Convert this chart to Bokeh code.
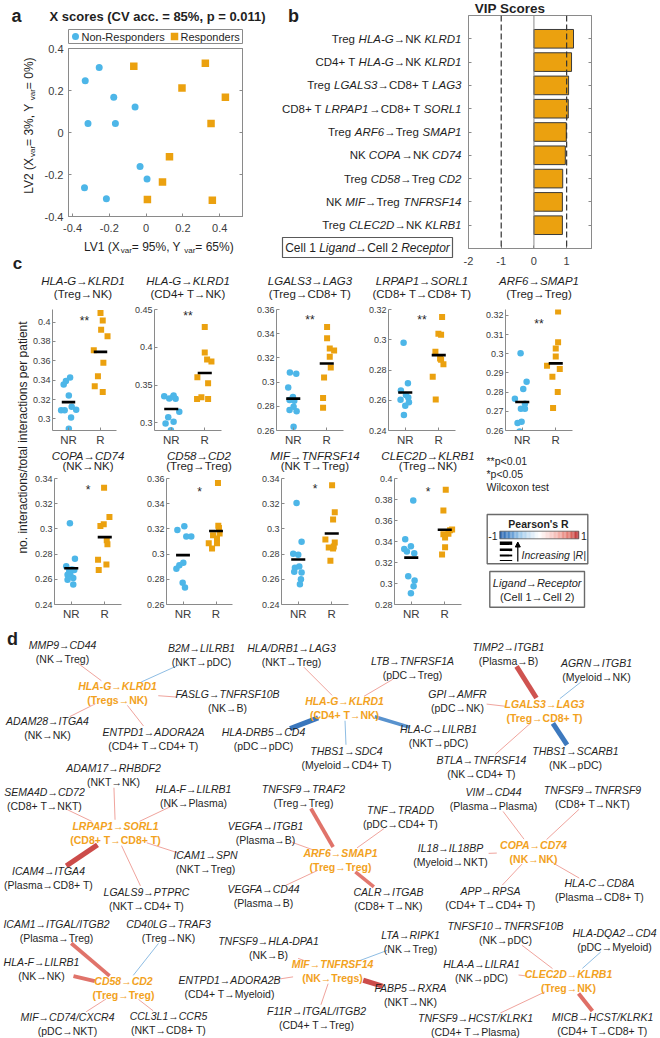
import math
import numpy as np
from bokeh.plotting import figure
from bokeh.layouts import row, column
from bokeh.models import (Range1d, FixedTicker, CustomJSTickFormatter, Label, Span, LinearAxis,
                          Arrow, NormalHead, ColumnDataSource)
from bokeh.core.properties import value
from bokeh.embed import file_html
from bokeh.resources import INLINE

FONT = "Liberation Sans"
INK = "#1f1f1f"
TICK_TXT = "#3c3c3c"
AXIS = "#8a8a8a"
NR_BLUE = "#4DB6E8"
R_ORANGE = "#EBA10F"
HUB_ORANGE = "#F2A21E"

# ---------------- a: latent-variable scores ----------------
a_cv_acc = 85
a_p = 0.011
a_lv1_var = (95, 65)
a_lv2_var = (3, 0)
a_nr_x = [-0.255, -0.331, -0.176, -0.060, -0.316, -0.167, -0.033, 0.005, -0.335, -0.216]
a_nr_y = [0.309, 0.246, 0.168, 0.122, 0.043, 0.043, -0.162, -0.222, -0.263, -0.315]
a_r_x = [-0.067, 0.322, 0.195, 0.431, 0.353, 0.127, 0.089, 0.007, 0.360]
a_r_y = [0.315, 0.330, 0.212, 0.168, 0.043, -0.116, -0.236, -0.319, -0.323]
a_ticks = [-0.4, -0.2, 0, 0.2, 0.4]

# ---------------- b: VIP scores ----------------
b_sender = ["Treg", "CD4+ T", "Treg", "CD8+ T", "Treg", "NK", "Treg", "NK", "Treg"]
b_ligand = ["HLA-G", "HLA-G", "LGALS3", "LRPAP1", "ARF6", "COPA", "CD58", "MIF", "CLEC2D"]
b_receiver = ["NK", "NK", "CD8+ T", "CD8+ T", "Treg", "NK", "Treg", "Treg", "NK"]
b_receptor = ["KLRD1", "KLRD1", "LAG3", "SORL1", "SMAP1", "CD74", "CD2", "TNFRSF14", "KLRB1"]
b_vip = [1.21, 1.15, 1.06, 1.05, 0.99, 0.96, 0.88, 0.87, 0.87]
b_ticks = [-2, -1, 0, 1]

# ---------------- c: per-patient interaction fractions ----------------
c_pairs = ["HLA-G→KLRD1", "HLA-G→KLRD1", "LGALS3→LAG3", "LRPAP1→SORL1", "ARF6→SMAP1",
           "COPA→CD74", "CD58→CD2", "MIF→TNFRSF14", "CLEC2D→KLRB1"]
c_cells = ["Treg→NK", "CD4+ T→NK", "Treg→CD8+ T", "CD8+ T→CD8+ T", "Treg→Treg",
           "NK→NK", "Treg→Treg", "NK T→Treg", "Treg→NK"]
c_sig = ["**", "**", "**", "**", "**", "*", "*", "*", "*"]
c_nr = [
    [0.3427, 0.3392, 0.3356, 0.3243, 0.3126, 0.3091, 0.3091, 0.3094, 0.3016, 0.2900],
    [0.3354, 0.3324, 0.3363, 0.3319, 0.3345, 0.3149, 0.3074, 0.3017, 0.2991, 0.2904],
    [0.3079, 0.3068, 0.2956, 0.2877, 0.2853, 0.2845, 0.2797, 0.2770, 0.2760, 0.2632],
    [0.2980, 0.2713, 0.2665, 0.2635, 0.2603, 0.2618, 0.2586, 0.2563, 0.2502],
    [0.3003, 0.2854, 0.2817, 0.2765, 0.2740, 0.2714, 0.2714, 0.2639, 0.2646, 0.2595],
    [0.3044, 0.2764, 0.2704, 0.2678, 0.2665, 0.2673, 0.2636, 0.2639, 0.2610, 0.2597, 0.2558],
    [0.3191, 0.3222, 0.3140, 0.3140, 0.2883, 0.2911, 0.2932, 0.2772, 0.2734],
    [0.3205, 0.2899, 0.2803, 0.2795, 0.2691, 0.2701, 0.2659, 0.2653, 0.2600, 0.2560],
    [0.3791, 0.3422, 0.3329, 0.3305, 0.3354, 0.3289, 0.3068, 0.3028, 0.2975, 0.2908],
]
c_nr_jitter = [
    [0.05, -0.08, -0.15, 0.01, 0.10, -0.23, -0.12, 0.24, 0.08, 0.01],
    [-0.21, -0.06, 0.07, 0.13, 0.06, 0.24, -0.09, 0.07, -0.17, -0.01],
    [-0.10, 0.09, -0.15, -0.01, -0.11, 0.03, 0.01, -0.11, 0.10, 0.01],
    [-0.05, 0.08, -0.13, 0.02, -0.14, 0.09, 0.11, 0.00, -0.04],
    [-0.05, 0.13, 0.03, -0.22, 0.08, -0.04, 0.08, -0.14, -0.02, -0.08],
    [-0.04, 0.11, -0.15, 0.02, -0.06, 0.09, -0.11, -0.03, 0.06, -0.11, 0.06],
    [-0.17, 0.04, 0.10, 0.25, -0.20, -0.11, 0.01, -0.01, 0.06],
    [-0.05, 0.10, -0.15, 0.00, -0.10, 0.03, -0.12, 0.10, 0.08, 0.05],
    [0.06, -0.18, -0.21, -0.13, -0.01, 0.09, -0.09, 0.10, 0.07, -0.01],
]
c_r = [
    [0.4094, 0.4016, 0.3919, 0.3854, 0.3709, 0.3579, 0.3440, 0.3337, 0.3278],
    [0.4268, 0.3931, 0.3840, 0.3813, 0.3603, 0.3525, 0.3341, 0.3315, 0.3315],
    [0.3456, 0.3363, 0.3278, 0.3262, 0.3209, 0.3121, 0.3039, 0.2869, 0.2789],
    [0.3151, 0.3039, 0.3033, 0.2921, 0.2868, 0.2838, 0.2756, 0.2605, 0.2876],
    [0.3220, 0.3060, 0.3027, 0.2986, 0.2938, 0.2880, 0.2921, 0.2801, 0.2717],
    [0.3327, 0.3094, 0.3036, 0.3023, 0.2909, 0.2878, 0.2756, 0.2717, 0.2673],
    [0.3564, 0.3225, 0.3207, 0.3150, 0.3163, 0.3124, 0.3086, 0.3086, 0.3045],
    [0.3347, 0.3133, 0.3075, 0.2915, 0.2893, 0.2853, 0.2845, 0.2747, 0.2861],
    [0.3892, 0.3695, 0.3468, 0.3508, 0.3514, 0.3474, 0.3437, 0.3345, 0.3277],
]
c_r_jitter = [
    [0.00, 0.07, 0.02, 0.22, -0.21, 0.09, -0.08, -0.18, 0.07],
    [0.00, 0.00, 0.07, 0.20, -0.22, 0.10, -0.10, -0.23, 0.10],
    [0.01, 0.01, 0.09, 0.22, 0.09, 0.12, -0.08, -0.11, -0.11],
    [0.10, -0.01, 0.07, -0.10, 0.07, 0.14, -0.18, -0.09, 0.04],
    [0.07, 0.07, 0.00, 0.00, -0.26, -0.10, 0.12, 0.06, -0.08],
    [-0.02, 0.14, -0.03, -0.13, 0.06, 0.08, -0.20, 0.05, -0.18],
    [0.06, 0.07, 0.09, -0.09, 0.11, 0.03, -0.22, 0.03, -0.12],
    [0.01, 0.09, 0.04, -0.19, 0.09, -0.09, 0.04, -0.04, 0.06],
    [0.03, -0.04, -0.04, 0.16, 0.22, 0.11, 0.01, 0.01, -0.08],
]
c_ylim = [(0.2881, 0.4129), (0.29, 0.45), (0.26, 0.36), (0.24, 0.32), (0.26, 0.3231),
          (0.24, 0.34), (0.26, 0.36), (0.24, 0.34), (0.28, 0.40)]
c_yticks = [
    [0.3, 0.32, 0.34, 0.36, 0.38, 0.4],
    [0.3, 0.35, 0.4, 0.45],
    [0.26, 0.28, 0.3, 0.32, 0.34, 0.36],
    [0.24, 0.26, 0.28, 0.3, 0.32],
    [0.26, 0.27, 0.28, 0.29, 0.3, 0.31, 0.32],
    [0.24, 0.26, 0.28, 0.3, 0.32, 0.34],
    [0.26, 0.28, 0.3, 0.32, 0.34, 0.36],
    [0.24, 0.26, 0.28, 0.3, 0.32, 0.34],
    [0.28, 0.3, 0.32, 0.34, 0.36, 0.38, 0.4],
]

# ---------------- d: ligand-receptor correlation network ----------------
d_hub_pair = ["HLA-G→KLRD1", "HLA-G→KLRD1", "LGALS3→LAG3", "LRPAP1→SORL1", "ARF6→SMAP1",
              "COPA→CD74", "CD58→CD2", "MIF→TNFRSF14", "CLEC2D→KLRB1"]
d_hub_cells = ["Tregs→NK", "CD4+ T→NK", "Treg→CD8+ T", "CD8+ T→CD8+ T", "Treg→Treg",
               "NK→NK", "Treg→Treg", "NK→Tregs", "Treg→NK"]
e_hub = [0] * 5 + [1] * 5 + [2] * 5 + [3] * 6 + [4] * 5 + [5] * 5 + [6] * 5 + [7] * 5 + [8] * 5
e_pair = ["MMP9→CD44", "B2M→LILRB1", "FASLG→TNFRSF10B", "ADAM28→ITGA4", "ENTPD1→ADORA2A",
          "HLA/DRB1→LAG3", "LTB→TNFRSF1A", "HLA-DRB5→CD4", "HLA-C→LILRB1", "THBS1→SDC4",
          "TIMP2→ITGB1", "AGRN→ITGB1", "GPI→AMFR", "THBS1→SCARB1", "BTLA→TNFRSF14",
          "ADAM17→RHBDF2", "SEMA4D→CD72", "HLA-F→LILRB1", "ICAM4→ITGA4", "ICAM1→SPN", "LGALS9→PTPRC",
          "TNFSF9→TRAF2", "VEGFA→ITGB1", "TNF→TRADD", "CALR→ITGAB", "VEGFA→CD44",
          "VIM→CD44", "TNFSF9→TNFRSF9", "IL18→IL18BP", "APP→RPSA", "HLA-C→CD8A",
          "ICAM1→ITGAL/ITGB2", "HLA-F→LILRB1", "CD40LG→TRAF3", "MIF→CD74/CXCR4", "CCL3L1→CCR5",
          "TNFSF9→HLA-DPA1", "ENTPD1→ADORA2B", "F11R→ITGAL/ITGB2", "LTA→RIPK1", "FABP5→RXRA",
          "TNFSF10→TNFRSF10B", "HLA-DQA2→CD4", "HLA-A→LILRA1", "TNFSF9→HCST/KLRK1", "MICB→HCST/KLRK1"]
e_cells = ["NK→Treg", "NKT→pDC", "NK→B", "NK→NK", "CD4+ T→CD4+ T",
           "NKT→Treg", "pDC→Treg", "pDC→pDC", "NKT→pDC", "Myeloid→CD4+ T",
           "Plasma→B", "Myeloid→NK", "pDC→NK", "NK→pDC", "NK→CD4+ T",
           "NKT→NK", "CD8+ T→NKT", "NK→Plasma", "Plasma→CD8+ T", "NKT→Treg", "NKT→CD4+ T",
           "Treg→Treg", "Plasma→B", "pDC→CD4+ T", "CD8+ T→NK", "Plasma→B",
           "Plasma→Plasma", "CD8+ T→NKT", "Myeloid→NKT", "CD4+ T→CD4+ T", "Plasma→CD8+ T",
           "Plasma→Treg", "NK→NK", "Treg→NK", "pDC→NKT", "NKT→CD8+ T",
           "NK→B", "CD4+ T→Myeloid", "CD4+ T→Treg", "NK→Treg", "NKT→NK",
           "NK→pDC", "pDC→Myeloid", "NK→pDC", "CD4+ T→Plasma", "CD4+ T→CD8+ T"]
e_r = [0.55, -0.55, 0.55, 0.55, 0.55,
       0.55, 0.55, -0.90, -0.75, -0.55,
       0.88, -0.55, 0.55, -0.88, 0.55,
       0.55, 0.55, 0.55, 0.90, 0.55, 0.55,
       0.78, 0.55, 0.55, 0.76, 0.55,
       0.55, 0.55, 0.55, 0.55, 0.55,
       0.78, 0.78, -0.55, 0.55, 0.55,
       0.55, 0.55, 0.55, -0.55, 0.90,
       0.55, -0.55, 0.55, 0.55, 0.80]

# network layout: label centre x and first-line y, in page pixels
hub_xy = [(117, 685), (344, 700), (544, 703), (115, 825), (340, 852),
          (533, 844), (123, 980), (332, 963), (568, 973)]
node_xy = [(62, 644), (201, 647), (227, 693), (47, 720), (153, 731),
           (291, 647), (412, 660), (263, 731), (438, 728), (346, 750),
           (508, 646), (596, 662), (457, 693), (575, 750), (481, 759),
           (113, 767), (44, 791), (193, 788), (48, 870), (205, 854), (146, 891),
           (303, 788), (265, 825), (400, 809), (388, 891), (263, 888),
           (493, 791), (592, 789), (450, 847), (490, 890), (599, 882),
           (56, 923), (41, 961), (168, 923), (67, 1016), (168, 1015),
           (268, 940), (229, 979), (316, 1010), (410, 934), (410, 987),
           (505, 925), (614, 932), (481, 963), (475, 1017), (602, 1016)]

# ---------------- helpers ----------------
_ADV = {' ': 278, '!': 278, '%': 889, '(': 333, ')': 333, '*': 389, '+': 584, ',': 278, '-': 333,
        '.': 278, '/': 278, ':': 278, '<': 584, '=': 584, '>': 584, '|': 260, "'": 191, '→': 1000}
for _c in '0123456789':
    _ADV[_c] = 556
_ADV.update(dict(zip('ABCDEFGHIJKLMNOPQRSTUVWXYZ',
                     [667, 667, 722, 722, 667, 611, 778, 722, 278, 500, 667, 556, 833, 722, 778, 667,
                      778, 722, 667, 611, 722, 667, 944, 667, 667, 611])))
_ADV.update(dict(zip('abcdefghijklmnopqrstuvwxyz',
                     [556, 556, 500, 556, 556, 278, 556, 556, 222, 222, 500, 222, 833, 556, 556, 556,
                      556, 333, 500, 278, 556, 500, 722, 500, 500, 500])))


def text_width(s, size):
    return sum(_ADV.get(ch, 556) for ch in s) * size / 1000.0


class Frame:
    """Where a plot frame sits on the page (pixels) and the data range it shows."""

    def __init__(self, left, top, width, height, x0, x1, y_bottom, y_top):
        self.left, self.top, self.width, self.height = left, top, width, height
        self.x0, self.x1, self.y_bottom, self.y_top = x0, x1, y_bottom, y_top

    def dx(self, px):
        return self.x0 + (px - self.left) / self.width * (self.x1 - self.x0)

    def dy(self, py):
        return self.y_top - (py - self.top) / self.height * (self.y_top - self.y_bottom)


def make_fig(page_left, page_top, width, height, fr):
    p = figure(width=width, height=height,
               x_range=Range1d(fr.x0, fr.x1), y_range=Range1d(fr.y_bottom, fr.y_top),
               min_border_left=int(fr.left - page_left), min_border_top=int(fr.top - page_top),
               min_border_right=int(page_left + width - fr.left - fr.width),
               min_border_bottom=int(page_top + height - fr.top - fr.height),
               output_backend="svg", toolbar_location=None)
    p.grid.visible = False
    p.outline_line_color = None
    p.border_fill_color = "white"
    return p


def page_fig(left, top, width, height):
    """A plain drawing surface addressed in page pixels (y grows downward)."""
    fr = Frame(left, top, width, height, left, left + width, top + height, top)
    p = figure(width=width, height=height, x_range=Range1d(left, left + width),
               y_range=Range1d(top + height, top), min_border=0,
               x_axis_location=None, y_axis_location=None,
               output_backend="svg", toolbar_location=None)
    p.grid.visible = False
    p.outline_line_color = None
    return p, fr


def plain_fmt():
    return CustomJSTickFormatter(code="return tick.toString();")


def blank_fmt():
    return CustomJSTickFormatter(code="return '';")


def style_axis(ax, size, standoff):
    ax.axis_line_color = AXIS
    ax.major_tick_line_color = AXIS
    ax.major_tick_in = 3
    ax.major_tick_out = 0
    ax.minor_tick_line_color = None
    ax.major_label_text_font = FONT
    ax.major_label_text_font_size = size
    ax.major_label_text_color = TICK_TXT
    ax.major_label_standoff = standoff
    ax.axis_label = None


def mirror_axis(p, side, ticks):
    ax = LinearAxis(ticker=FixedTicker(ticks=ticks), formatter=blank_fmt())
    style_axis(ax, "1px", 0)
    p.add_layout(ax, side)


def label(p, fr, px, py, text, size, style="normal", color=INK, align="left",
          angle=0.0, xo=0.0, yo=0.0):
    """Text centred vertically on page y = py."""
    p.add_layout(Label(x=fr.dx(px), y=fr.dy(py), x_offset=xo, y_offset=yo, text=text,
                       text_font=FONT, text_font_size=f"{size}px", text_font_style=style,
                       text_color=color, text_align=align, text_baseline="middle", angle=angle))


def rich(p, fr, segs, px, py, align="left", angle=0.0, color=INK):
    """Mixed-style text run; segs = (text, style, size, downward shift)."""
    widths = [text_width(t, s) for t, _, s, _ in segs]
    total = sum(widths)
    off = {"left": 0.0, "center": -total / 2.0, "right": -total}[align]
    ca, sa = math.cos(angle), math.sin(angle)
    for (t, st, s, drop), w in zip(segs, widths):
        label(p, fr, px, py, t, s, st, color, "left", angle,
              xo=off * ca + drop * sa, yo=off * sa - drop * ca)
        off += w


R_STOPS = [(-1.0, (42, 100, 174)), (-0.8, (74, 135, 201)), (-0.5, (156, 200, 234)), (0.0, (255, 255, 255)),
           (0.5, (244, 175, 168)), (0.8, (223, 111, 102)), (1.0, (184, 40, 46))]


def r_color(r):
    for (a, ca), (b, cb) in zip(R_STOPS[:-1], R_STOPS[1:]):
        if a <= r <= b:
            f = (r - a) / (b - a)
            c = [round(u + (v - u) * f) for u, v in zip(ca, cb)]
            return "#%02x%02x%02x" % tuple(c)
    return "#%02x%02x%02x" % (R_STOPS[-1][1] if r > 0 else R_STOPS[0][1])


def edge_width(r):
    return 1.0 + (abs(r) - 0.55) * 12.0


# ================= panel a =================
FA = Frame(68, 48, 174, 168, -0.422, 0.524, -0.4, 0.4)
fa = make_fig(38, 44, 242, 196, FA)
fa.outline_line_color = AXIS
fa.scatter(a_nr_x, a_nr_y, marker="circle", size=7, fill_color=NR_BLUE, line_color=None)
fa.scatter(a_r_x, a_r_y, marker="square", size=7.5, fill_color=R_ORANGE, line_color=None)
for ax in (fa.xaxis[0], fa.yaxis[0]):
    ax.ticker = FixedTicker(ticks=a_ticks)
    ax.formatter = plain_fmt()
    style_axis(ax, "11px", 5)
fa.xaxis[0].major_label_standoff = 7
mirror_axis(fa, "right", a_ticks)

a_top, FAT = page_fig(0, 0, 280, 44)
label(a_top, FAT, 16, 15, "a", 18, "bold", align="center")
label(a_top, FAT, 157, 15.5, f"X scores (CV acc. = {a_cv_acc}%, p = {a_p})", 13, "bold", align="center")
a_top.quad(left=[68], right=[242], top=[29], bottom=[43], fill_color="white", line_color=AXIS, line_width=1)
a_top.scatter([75], [36], marker="circle", size=7, fill_color=NR_BLUE, line_color=None)
a_top.scatter([174], [36], marker="square", size=7.5, fill_color=R_ORANGE, line_color=None)
label(a_top, FAT, 81, 36, "Non-Responders", 11)
label(a_top, FAT, 180, 36, "Responders", 11)

a_left, FAL = page_fig(0, 44, 38, 196)
rich(a_left, FAL, [("LV2 (X", "normal", 12, 0), ("var", "normal", 8, 3.5),
                   (f" = {a_lv2_var[0]}%, Y", "normal", 12, 0), ("var", "normal", 8, 3.5),
                   (f" = {a_lv2_var[1]}%)", "normal", 12, 0)], 28, 132, align="center", angle=math.pi / 2)

a_bot, FABT = page_fig(0, 240, 280, 32)
rich(a_bot, FABT, [("LV1 (X", "normal", 12, 0), ("var", "normal", 8, 3.5),
                   (f" = {a_lv1_var[0]}%, Y", "normal", 12, 0), ("var", "normal", 8, 3.5),
                   (f" = {a_lv1_var[1]}%)", "normal", 12, 0)], 160, 246.5, align="center")
label(a_bot, FABT, 17, 263, "c", 17, "bold", align="center")

# ================= panel b =================
FB = Frame(468, 15, 123, 233, -2, 1.76, 10, 0)
fb = make_fig(463, 14, 197, 258, FB)
fb.outline_line_color = AXIS
b_rank = list(range(1, len(b_vip) + 1))
fb.hbar(y=b_rank, left=0, right=b_vip, height=0.8, fill_color=R_ORANGE, line_color="#3a3a3a", line_width=1)
fb.add_layout(Span(location=0, dimension="height", line_color="#8a8a8a", line_width=1))
for loc in (-1, 1):
    fb.add_layout(Span(location=loc, dimension="height", line_color="#333333", line_width=1.2, line_dash="6 3"))
fb.xaxis[0].ticker = FixedTicker(ticks=b_ticks)
fb.xaxis[0].formatter = plain_fmt()
style_axis(fb.xaxis[0], "11px", 8)
fb.yaxis[0].ticker = FixedTicker(ticks=b_rank)
fb.yaxis[0].formatter = blank_fmt()
style_axis(fb.yaxis[0], "1px", 0)
mirror_axis(fb, "right", b_rank)

b_top, FBT = page_fig(463, 0, 197, 14)
label(b_top, FBT, 529.5, 7.5, "VIP Scores", 13.5, "bold", align="center")

b_lab, FBL = page_fig(280, 0, 183, 272)
label(b_lab, FBL, 293, 15, "b", 18, "bold", align="center")
for i in range(len(b_vip)):
    cy = FB.top + (i + 1) * FB.height / 10.0
    rich(b_lab, FBL, [(b_sender[i] + " ", "normal", 11.5, 0), (b_ligand[i], "italic", 11.5, 0),
                      ("→" + b_receiver[i] + " ", "normal", 11.5, 0), (b_receptor[i], "italic", 11.5, 0)],
         461, cy, align="right")
b_lab.quad(left=[282], right=[452], top=[237], bottom=[257], fill_color=None, line_color="#595959", line_width=1.2)
rich(b_lab, FBL, [("Cell 1 ", "normal", 12, 0), ("Ligand", "italic", 12, 0),
                  ("→Cell 2 ", "normal", 12, 0), ("Receptor", "italic", 12, 0)], 367, 247, align="center")

# ================= panel c =================
# (figure left, figure width, frame left, frame top, frame bottom) in page pixels
c_place = [(29, 101, 49, 304, 433), (130, 122, 154, 309, 431), (252, 112, 276, 305, 431),
           (364, 117, 388, 305, 431), (481, 179, 505, 301, 430),
           (29, 114, 54, 477, 605), (143, 115, 165, 475, 604), (258, 113, 281, 478, 605),
           (371, 109, 394, 475, 604)]
strip1, FS1 = page_fig(29, 272, 631, 28)
strip2, FS2 = page_fig(29, 448, 451, 24)
c_figs = []
for k in range(9):
    fl, fw, frl, frt, frb = c_place[k]
    first_row = k < 5
    top, h = (300, 148) if first_row else (472, 151)
    fr = Frame(frl, frt, 67, frb - frt, 0.5, 2.5, c_ylim[k][0], c_ylim[k][1])
    p = make_fig(fl, top, fw, h, fr)
    p.xaxis[0].ticker = FixedTicker(ticks=[1, 2])
    p.xaxis[0].formatter = CustomJSTickFormatter(code="return tick == 1 ? 'NR' : 'R';")
    style_axis(p.xaxis[0], "11.5px", 3)
    p.yaxis[0].ticker = FixedTicker(ticks=c_yticks[k])
    p.yaxis[0].formatter = plain_fmt()
    style_axis(p.yaxis[0], "9px", 2)
    p.scatter([1 + j for j in c_nr_jitter[k]], c_nr[k], marker="circle", size=6.5,
              fill_color=NR_BLUE, line_color=None)
    p.scatter([2 + j for j in c_r_jitter[k]], c_r[k], marker="square", size=6,
              fill_color=R_ORANGE, line_color=None)
    means = [float(np.mean(c_nr[k])), float(np.mean(c_r[k]))]
    p.segment(x0=[0.79, 1.79], x1=[1.21, 2.21], y0=means, y1=means, line_color="black", line_width=2.6)
    label(p, fr, frl + 33.5, 316 if first_row else 489, c_sig[k], 12, align="center")
    strip, FS = (strip1, FS1) if first_row else (strip2, FS2)
    gy, cy_ = (280, 293) if first_row else (455, 465.5)
    label(strip, FS, frl + 33.5, gy, c_pairs[k], 11.5, "italic", align="center")
    label(strip, FS, frl + 33.5, cy_, "(" + c_cells[k] + ")", 11.5, align="center")
    c_figs.append(p)

fy, FY = page_fig(0, 272, 29, 351)
label(fy, FY, 22.5, 437, "no. interactions/total interactions per patient", 12,
      align="center", angle=math.pi / 2)

# key for the network colours and widths, plus test note
fk, FK = page_fig(480, 448, 180, 175)
for j, t in enumerate(["**p<0.01", "*p<0.05", "Wilcoxon test"]):
    label(fk, FK, 486, 460 + 13 * j, t, 10.5)
fk.quad(left=[486.7, 489.3], right=[587.3, 584], top=[514, 571], bottom=[563.3, 606.7],
        fill_color=None, line_color="#6a6a6a", line_width=1.4)
label(fk, FK, 538, 523.5, "Pearson's R", 10.5, "bold", align="center")
n_steps = 60
edges = np.linspace(499.3, 578.3, n_steps + 1)
ramp = np.linspace(-1, 1, n_steps)
fk.quad(left=edges[:-1], right=edges[1:], top=530.7, bottom=538.3,
        fill_color=[r_color(float(r)) for r in ramp], line_color=None)
fk.quad(left=[499.3], right=[578.3], top=[530.7], bottom=[538.3], fill_color=None,
        line_color="#555555", line_width=0.8)
label(fk, FK, 497, 535, "-1", 10.5, align="right")
label(fk, FK, 580.5, 535, "1", 10.5)
fk.segment(x0=[499.3] * 4, x1=[511.7] * 4, y0=[542.7, 549.3, 555, 560], y1=[542.7, 549.3, 555, 560],
           line_color="black", line_width=[3.4, 2.6, 1.8, 1.0])
fk.add_layout(Arrow(end=NormalHead(size=5, fill_color="black", line_color="black"),
                    x_start=517.3, y_start=561, x_end=517.3, y_end=541.5, line_width=1.2))
label(fk, FK, 521, 554.5, "Increasing |R|", 10.5, "italic")
label(fk, FK, 536.7, 582.7, "Ligand→Receptor", 11, "italic", align="center")
label(fk, FK, 536.7, 596, "(Cell 1→Cell 2)", 11, align="center")

# ================= panel d =================
fd, FD = page_fig(0, 623, 660, 415)
DSIZE = 10.5
LINE = 14.5


def d_ellipse(x, y1, l1, l2, bold):
    k = 1.07 if bold else 1.0
    w = max(text_width(l1, DSIZE), text_width(l2, DSIZE)) * k
    return x, y1 + LINE / 2.0, w / 2.0 + 1.0, 13.0


def clip_edge(a, b):
    (ax_, ay_, aa, ab), (bx_, by_, ba, bb) = a, b
    ddx, ddy = bx_ - ax_, by_ - ay_
    ta = 1.0 / math.hypot(ddx / aa, ddy / ab)
    tb = 1.0 / math.hypot(ddx / ba, ddy / bb)
    return ax_ + ddx * ta, ay_ + ddy * ta, bx_ - ddx * tb, by_ - ddy * tb


hub_shapes = [d_ellipse(x, y, d_hub_pair[i], "(" + d_hub_cells[i] + ")", True) for i, (x, y) in enumerate(hub_xy)]
seg = dict(x0=[], y0=[], x1=[], y1=[], color=[], width=[])
for i in range(len(e_pair)):
    nx, ny = node_xy[i]
    ns = d_ellipse(nx, ny, e_pair[i], "(" + e_cells[i] + ")", False)
    x0, y0, x1, y1 = clip_edge(hub_shapes[e_hub[i]], ns)
    seg["x0"].append(x0); seg["y0"].append(y0); seg["x1"].append(x1); seg["y1"].append(y1)
    seg["color"].append(r_color(e_r[i]))
    seg["width"].append(edge_width(e_r[i]))
fd.segment(x0="x0", y0="y0", x1="x1", y1="y1", line_color="color", line_width="width",
           source=ColumnDataSource(seg))

fd.text(x=[p[0] for p in node_xy], y=[p[1] for p in node_xy], text=e_pair,
        text_font=value(FONT), text_font_size=f"{DSIZE}px", text_font_style="italic",
        text_align="center", text_baseline="middle", text_color=INK)
fd.text(x=[p[0] for p in node_xy], y=[p[1] + LINE for p in node_xy], text=["(" + c + ")" for c in e_cells],
        text_font=value(FONT), text_font_size=f"{DSIZE}px", text_font_style="normal",
        text_align="center", text_baseline="middle", text_color=INK)
fd.text(x=[p[0] for p in hub_xy], y=[p[1] for p in hub_xy], text=d_hub_pair,
        text_font=value(FONT), text_font_size=f"{DSIZE}px", text_font_style="bold italic",
        text_align="center", text_baseline="middle", text_color=HUB_ORANGE)
fd.text(x=[p[0] for p in hub_xy], y=[p[1] + LINE for p in hub_xy], text=["(" + c + ")" for c in d_hub_cells],
        text_font=value(FONT), text_font_size=f"{DSIZE}px", text_font_style="bold",
        text_align="center", text_baseline="middle", text_color=HUB_ORANGE)
label(fd, FD, 12, 638, "d", 18, "bold", align="center")

col_a = column(a_top, row(a_left, fa), a_bot)
col_b = row(b_lab, column(b_top, fb))
mid_right = column(strip1, row(*c_figs[:5]), row(column(strip2, row(*c_figs[5:])), fk))
page = column(row(col_a, col_b), row(fy, mid_right), fd)
open("out.html", "w").write(file_html(page, INLINE))
